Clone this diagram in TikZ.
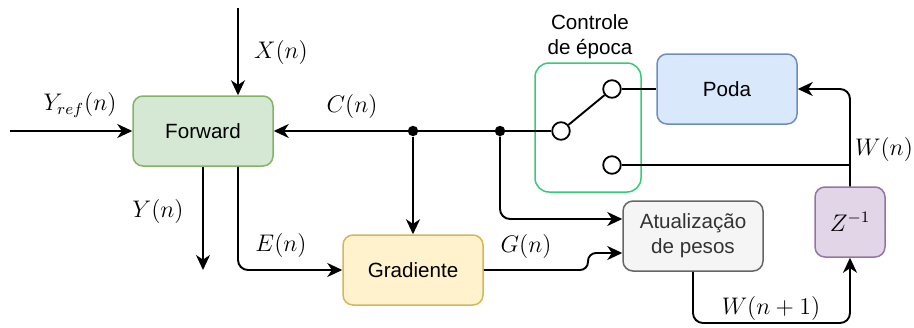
\documentclass[tikz,border=0pt]{standalone}
\usepackage{fontspec}
\newfontfamily\arial{Liberation Sans}
\usetikzlibrary{arrows.meta,calc}
\definecolor{fwfill}{HTML}{D5E8D4}\definecolor{fwdraw}{HTML}{82B366}
\definecolor{grfill}{HTML}{FFF2CC}\definecolor{grdraw}{HTML}{D6B656}
\definecolor{atfill}{HTML}{F5F5F5}\definecolor{atdraw}{HTML}{666666}\definecolor{attext}{HTML}{333333}
\definecolor{pdfill}{HTML}{DAE8FC}\definecolor{pddraw}{HTML}{6C8EBF}
\definecolor{zfill}{HTML}{E1D5E7}\definecolor{zdraw}{HTML}{9673A6}
\definecolor{ctrlc}{HTML}{33CC77}
\begin{document}
\begin{tikzpicture}[x=0.5pt,y=-0.5pt,
  box/.style={draw, rounded corners=5pt, line width=0.75pt, minimum width=70pt, minimum height=35pt,
    font=\arial\fontsize{10.3}{12.5}\selectfont, align=center, inner sep=0pt},
  conn/.style={line width=0.95pt, -{Stealth[length=7.5pt,width=7pt,inset=2.3pt]}},
  wire/.style={line width=0.95pt},
  lbl/.style={font=\fontsize{11.5}{13}\selectfont, inner sep=0pt},
  sw/.style={circle, draw, fill=white, minimum size=8.8pt, inner sep=0pt, line width=0.9pt},
  dot/.style={circle, fill, inner sep=0pt, minimum size=5.2pt},
]
\useasboundingbox (0,0) rectangle (914,327);

% boxes
\node[box, fill=fwfill, draw=fwdraw] (fw) at (203,131) {Forward};
\node[box, fill=grfill, draw=grdraw] (gr) at (413,270) {Gradiente};
\node[box, fill=atfill, draw=atdraw, text=attext] (at) at (693,236) {Atualização\\de pesos};
\node[box, fill=pdfill, draw=pddraw] (poda) at (727,89) {Poda};
\node[box, fill=zfill, draw=zdraw, minimum width=35pt, font=\fontsize{11.5}{13}\selectfont] (z) at (850,222) {$Z^{-1}$};

% epoch control
\node[draw=ctrlc, rounded corners=7pt, minimum width=53pt, minimum height=64.5pt, line width=0.75pt, inner sep=0pt] (ctrl) at (588,127.5) {};
\node[font=\arial\fontsize{10.3}{12.5}\selectfont, align=center, inner sep=0pt] (ctrllbl) at (590,37) {Controle\\de época};

% switch
\node[sw] (c1) at (561,131) {};
\node[sw] (c2) at (612,89) {};
\node[sw] (c3) at (612,165) {};
\draw[wire] (c1) -- (c2);
\draw[wire] (c2) -- (poda.west);

% junction dots
\node[dot] (d1) at (413,131) {};
\node[dot] (d2) at (500,131) {};

% coordinates
\coordinate (yref) at (10,131);
\coordinate (xin) at (238,8);
\coordinate (yout) at (203,270);
\coordinate (wj) at (850,165);
\coordinate (wb) at (693,323);
\coordinate (gj1) at (588,270);
\coordinate (gj2) at (588,253);

% connectors
\draw[conn] (yref) -- (fw.west);
\draw[conn] (xin) -- (xin |- fw.north);
\draw[conn] (fw.south) -- (yout);
\draw[conn, rounded corners=5pt] (xin |- fw.south) |- (gr.west);
\draw[conn] (c1) -- (fw.east);
\draw[conn] (d1) -- (gr.north);
\draw[conn, rounded corners=5pt] (d2) |- ($(at.west)+(0,-17)$);
\draw[conn, rounded corners=4pt] (gr.east) -- (gj1) -- (gj2) -- ($(at.west)+(0,17)$);
\draw[wire] (c3) -- (wj);
\draw[conn, rounded corners=5pt] (z.north) |- (poda.east);
\draw[conn, rounded corners=5pt] (at.south) -- (wb) -| (z.south);

% labels
\node[lbl] (lyref) at (80,105) {$Y_{ref}(n)$};
\node[lbl] (lx) at (281,52) {$X(n)$};
\node[lbl] (ly) at (158,211) {$Y(n)$};
\node[lbl] (le) at (281,245) {$E(n)$};
\node[lbl] (lc) at (352,106) {$C(n)$};
\node[lbl] (lg) at (526,246) {$G(n)$};
\node[lbl] (lw) at (884,149) {$W(n)$};
\node[lbl] (lw1) at (771,308) {$W(n+1)$};
\end{tikzpicture}
\end{document}
